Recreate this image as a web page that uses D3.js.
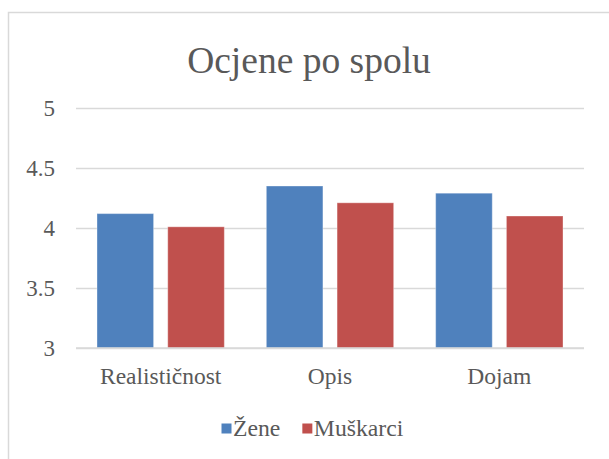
<!DOCTYPE html>
<html>
<head>
<meta charset="utf-8">
<script src="https://cdn.jsdelivr.net/npm/d3@7"></script>
</head>
<body style="margin:0;background:#fff">
<svg id="chart" width="609" height="459" style="display:block"></svg>
<script>
const title = "Ocjene po spolu";
const categories = ["Realističnost", "Opis", "Dojam"];
const seriesNames = ["Žene", "Muškarci"];
const zeneValues = [4.12, 4.35, 4.29];
const muskarciValues = [4.01, 4.21, 4.10];
const yTicks = [3, 3.5, 4, 4.5, 5];
const colors = ["#4F81BD", "#C0504D"];

const seriesValues = [zeneValues, muskarciValues];
const FONT = "Liberation Serif";
const TXT = "#595959";

const svg = d3.select("#chart").attr("font-family", FONT);
const plot = { left: 76, right: 584, top: 108, bottom: 348 };

// Outer chart border
svg.append("rect")
  .attr("x", 8.5).attr("y", 12.5)
  .attr("width", 640).attr("height", 480)
  .attr("fill", "#fff")
  .attr("stroke", "#d9d9d9").attr("stroke-width", 1.5);

// Title
svg.append("text")
  .attr("x", 309).attr("y", 73)
  .attr("text-anchor", "middle")
  .attr("font-family", FONT)
  .attr("font-size", 37.5)
  .attr("fill", TXT)
  .text(title);

const y = d3.scaleLinear().domain([3, 5]).range([plot.bottom, plot.top]);
const x0 = d3.scaleBand().domain(categories).range([plot.left, plot.right])
  .paddingInner(0.248).paddingOuter(0.124);
const x1 = d3.scaleBand().domain(seriesNames).range([0, x0.bandwidth()])
  .paddingInner(0.2);

// Gridlines + y tick labels
const yAxis = d3.axisLeft(y).tickValues(yTicks).tickSize(-(plot.right - plot.left)).tickPadding(21)
  .tickFormat(d => String(d));
const gy = svg.append("g").attr("transform", `translate(${plot.left},0)`).call(yAxis)
  .attr("font-family", FONT).attr("font-size", 23);
gy.select(".domain").remove();
gy.selectAll(".tick line").attr("stroke", "#d9d9d9").attr("stroke-width", 1.5);
gy.selectAll(".tick text")
  .attr("fill", TXT)
  .attr("font-size", 23)
  .attr("dy", "0.34em");

// Bars
const groups = svg.append("g").selectAll("g")
  .data(categories)
  .join("g")
  .attr("transform", d => `translate(${x0(d)},0)`);

groups.selectAll("rect")
  .data((c, i) => seriesNames.map((s, j) => ({ s, j, v: seriesValues[j][i] })))
  .join("rect")
  .attr("x", d => x1(d.s))
  .attr("y", d => y(d.v))
  .attr("width", x1.bandwidth())
  .attr("height", d => y(3) - y(d.v))
  .attr("fill", d => colors[d.j])
  .attr("stroke", "rgba(255,255,255,0.35)")
  .attr("stroke-width", 1);

// Baseline
svg.append("line")
  .attr("x1", plot.left).attr("x2", plot.right)
  .attr("y1", y(3)).attr("y2", y(3))
  .attr("stroke", "#d9d9d9").attr("stroke-width", 1.5);

// Category labels
const xAxis = d3.axisBottom(x0).tickSize(0).tickPadding(0);
const gx = svg.append("g").attr("transform", `translate(0,${plot.bottom})`).call(xAxis)
  .attr("font-family", FONT).attr("font-size", 23.5);
gx.select(".domain").remove();
gx.selectAll(".tick text")
  .attr("fill", TXT)
  .attr("y", 36).attr("dy", 0)
  .attr("font-size", 23.5);

// Legend
const legend = svg.append("g");
const legendY = 436;
let cx = 221.5;
seriesNames.forEach((name, i) => {
  legend.append("rect")
    .attr("x", cx).attr("y", legendY - 12.5)
    .attr("width", 10).attr("height", 10)
    .attr("fill", colors[i]);
  const t = legend.append("text")
    .attr("x", cx + 11.5).attr("y", legendY)
    .attr("font-size", 23.7)
    .attr("fill", TXT)
    .text(name);
  const w = t.node().getComputedTextLength();
  cx = cx + 11.5 + w + 22;
});

// Force the serif family on every text
svg.selectAll("text").each(function () {
  this.setAttribute("font-family", FONT);
  this.style.setProperty("font-family", "'Liberation Serif', Tinos, 'Times New Roman', serif", "important");
});
</script>
</body>
</html>
